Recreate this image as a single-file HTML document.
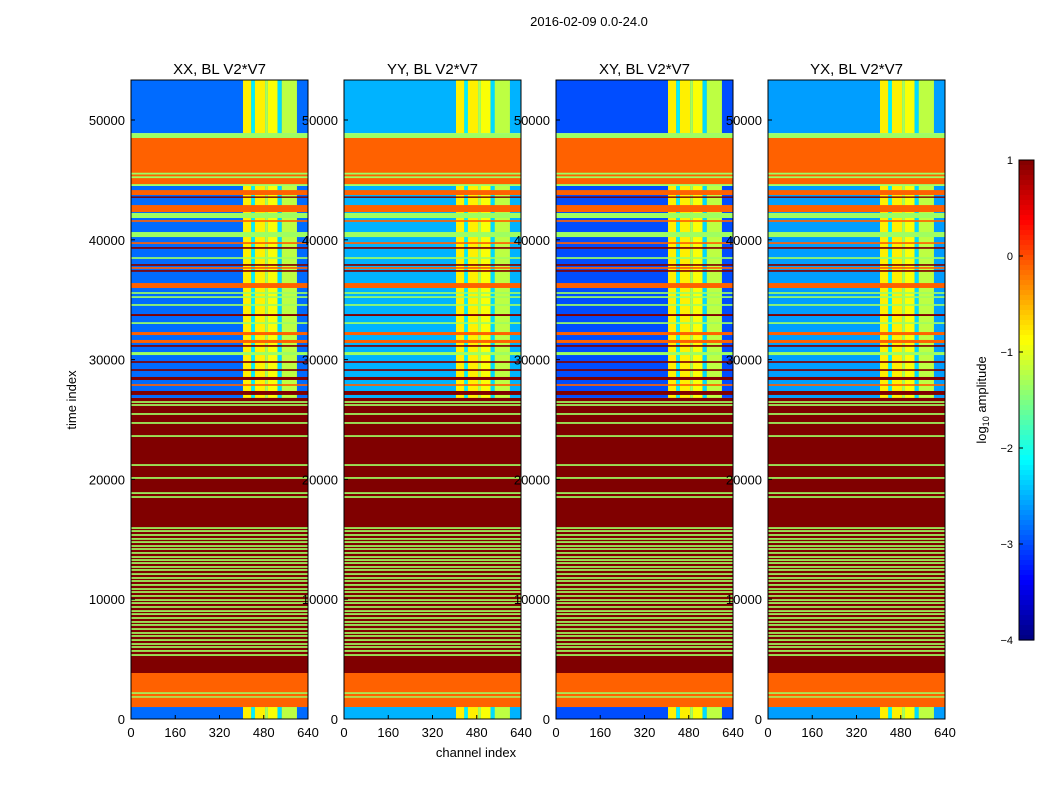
<!DOCTYPE html>
<html><head><meta charset="utf-8"><style>
html,body{margin:0;padding:0;background:#fff;}
svg text{font-family:"Liberation Sans",sans-serif;fill:#000;}
</style></head><body>
<svg id="fig" width="1050" height="800" viewBox="0 0 1050 800">
<text x="589" y="26" font-size="13" text-anchor="middle">2016-02-09 0.0-24.0</text>
<text transform="translate(76,400) rotate(-90)" font-size="13" text-anchor="middle">time index</text>
<text x="476" y="757" font-size="13" text-anchor="middle">channel index</text>
<g id="panels"></g>
<g id="cbar"></g>
</svg>
<script>
// ---- data ----
const panelTitles = ["XX, BL V2*V7","YY, BL V2*V7","XY, BL V2*V7","YX, BL V2*V7"];
const panelNoiseLevel = [-2.85,-2.5,-3.0,-2.6];
const noiseRegions = [[0,1000],[26800,44500],[48900,53340]];
const stripeChannels = [[405,435],[435,448],[448,485],[485,495],[495,530],[530,545],[545,600]];
const stripeLevels = [-0.8,-2.2,-0.8,-1.3,-0.9,-2.3,-1.2];
// solid bands [t0, t1, log10 amplitude]
const bands = [
 [1000,3840,-0.1],[1780,1900,-1.35],[2100,2230,-1.35],
 [3840,26800,1.0],
 [44500,48900,-1.35],[44650,45450,-0.1],[45600,48500,-0.1],[45150,45300,-1.35],
 [43740,44150,-0.1],[43500,43620,1.0],[42320,42900,-0.1],[41820,42240,-1.35],[41500,41640,-0.1],
 [40230,40650,-1.35],[39660,39800,-0.1],[39250,39390,1.0],[38410,38550,-1.35],[37830,37970,1.0],
 [37580,37720,-0.1],[37330,37470,1.0],[35980,36390,-0.1],[35490,35630,-1.35],[35150,35290,-1.35],
 [34490,34630,-1.35],[33640,33800,1.0],[32980,33120,-1.35],[32050,32300,-0.1],[31390,31640,-0.1],
 [31070,31210,1.0],[30380,30630,-1.35],[29730,29870,1.0],[29060,29200,1.0],[28300,28550,1.0],
 [27810,27950,-0.1],[27050,27380,1.0]
];
const limeLines = [26460,26210,25460,24710,23620,21200,20120,18860,18530,
 15940,15690,15360,15030,14770,14440,14190,13860,13520,13270,13020,12690,12440,12100,11770,
 11520,11190,10850,10600,10270,9930,9680,9350,9010,8760,8430,8100,7850,7510,7180,6930,6590,
 6260,6010,5680,5340];
const limeLevel = -1.35;
const xTicks = [0,160,320,480,640];
const yTicks = [0,10000,20000,30000,40000,50000];
const cbTicks = [1,0,-1,-2,-3,-4];

// ---- layout ----
const panelLeft = [131,344,556,768];
const PW = 177, PT = 80, PB = 719, TMAX = 53340, CMAX = 640;
const NS = "http://www.w3.org/2000/svg";
function jet(v){
  let x=(v+4)/5; x=Math.max(0,Math.min(1,x));
  const c=t=>Math.round(255*Math.max(0,Math.min(1,t)));
  return `rgb(${c(1.5-Math.abs(4*x-3))},${c(1.5-Math.abs(4*x-2))},${c(1.5-Math.abs(4*x-1))})`;
}
function el(tag,attrs,parent){const e=document.createElementNS(NS,tag);for(const k in attrs)e.setAttribute(k,attrs[k]);parent.appendChild(e);return e;}
const panelsG=document.getElementById('panels');
panelTitles.forEach((title,p)=>{
  const L=panelLeft[p];
  const xs=c=>L+c/CMAX*PW;
  const ys=t=>PB-t/TMAX*(PB-PT);
  const g=el('g',{},panelsG);
  
  
  const rect=(c0,c1,t0,t1,v,name)=>{
    const r=el('rect',{x:xs(c0),y:ys(t1),width:xs(c1)-xs(c0),height:Math.max(0.8,ys(t0)-ys(t1)),fill:jet(v)},g);
    
    
  };
  noiseRegions.forEach(n=>{
    rect(0,CMAX,n[0],n[1],panelNoiseLevel[p],'noise-region');
    stripeChannels.forEach((s,i)=>rect(s[0],s[1],n[0],n[1],stripeLevels[i],'channel-stripe'));
  });
  bands.forEach(b=>rect(0,CMAX,b[0],b[1],b[2],'time-band'));
  limeLines.forEach(t=>rect(0,CMAX,t-70,t+70,limeLevel,'flag-line'));
  const fr=el('rect',{x:L,y:PT,width:PW,height:PB-PT,fill:'none',stroke:'#000','stroke-width':1},g);
  
  
  const tt=el('text',{x:L+PW/2,y:74,'font-size':15,'text-anchor':'middle'},g);
  tt.textContent=title;
  
  
  xTicks.forEach(c=>{
    el('line',{x1:xs(c),x2:xs(c),y1:PB,y2:PB-4,stroke:'#000'},g);
    const t=el('text',{x:xs(c),y:737,'font-size':13,'text-anchor':'middle'},g);
    t.textContent=c;
    
    
  });
  yTicks.forEach(v=>{
    el('line',{x1:L,x2:L+4,y1:ys(v),y2:ys(v),stroke:'#000'},g);
    const t=el('text',{x:L-6,y:ys(v)+5,'font-size':13,'text-anchor':'end'},g);
    t.textContent=v;
    
    
  });
});
// colorbar
const cb=document.getElementById('cbar');


const CX=1019,CW=15,CT=160,CB=640;
for(let i=0;i<96;i++){
  const v=1-5*(i+0.5)/96;
  el('rect',{x:CX,y:CT+i*(CB-CT)/96,width:CW,height:(CB-CT)/96+0.6,fill:jet(v)},cb);
}
el('rect',{x:CX,y:CT,width:CW,height:CB-CT,fill:'none',stroke:'#000'},cb);
cbTicks.forEach(v=>{
  const y=CT+(1-v)/5*(CB-CT);
  el('line',{x1:CX,x2:CX+4,y1:y,y2:y,stroke:'#000'},cb);
  const t=el('text',{x:1013,y:y+4,'font-size':11,'text-anchor':'end'},cb);
  t.textContent=v<0?'\u2212'+(-v):v;
  
  
});
const lab=el('text',{transform:'translate(986,400) rotate(-90)','font-size':13,'text-anchor':'middle'},cb);
lab.innerHTML='log<tspan font-size="9" dy="3">10</tspan><tspan dy="-3"> amplitude</tspan>';


</script>
</body></html>
